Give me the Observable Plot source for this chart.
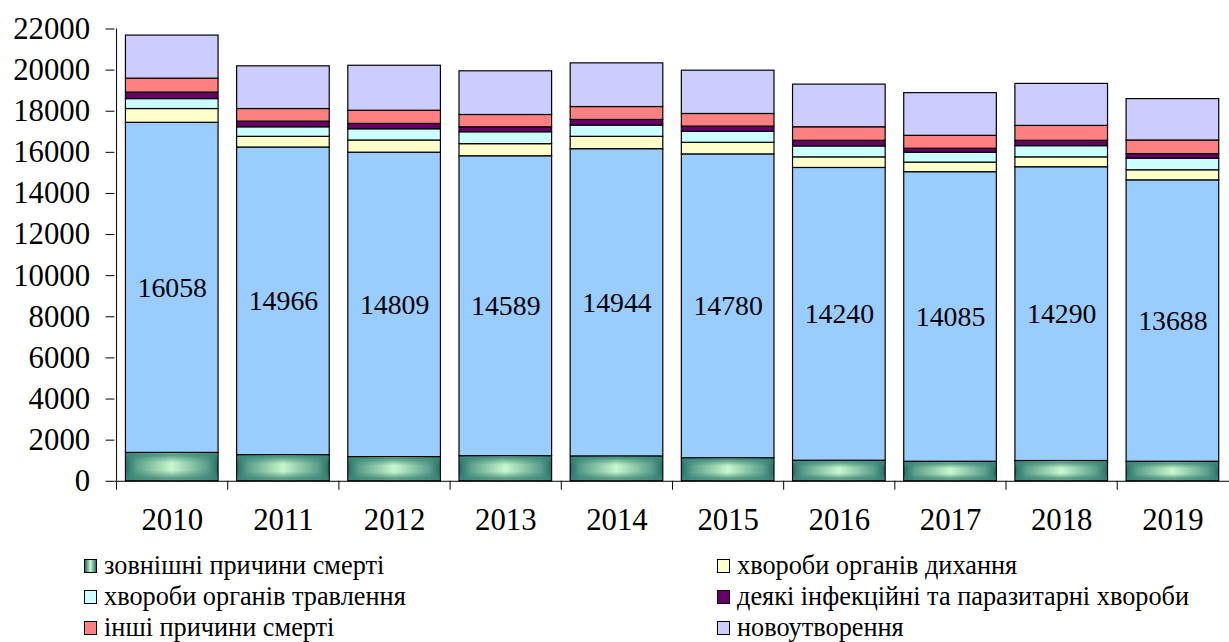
<!DOCTYPE html>
<html><head><meta charset="utf-8">
<script src="https://cdn.jsdelivr.net/npm/d3@7"></script>
<script src="https://cdn.jsdelivr.net/npm/@observablehq/plot@0.6"></script>
<style>
html,body{margin:0;padding:0;background:#fff;overflow:hidden;}
body{font-family:"Liberation Serif","Times New Roman",serif;color:#000;}
#legend{display:grid;grid-template-columns:633px auto;padding-left:84px;padding-top:9px;}
.item{display:flex;align-items:center;height:31px;font-size:26.3px;white-space:nowrap;}
.sw{width:13px;height:14px;border:1px solid #000;margin-right:7px;box-sizing:border-box;flex:none;}
</style></head><body>
<div id="chart"></div><div id="legend"></div>
<script>
const years = ["2010","2011","2012","2013","2014","2015","2016","2017","2018","2019"];
const external    = [1380, 1270, 1175, 1220, 1210, 1120, 1000, 950, 985, 950];
const circulatory = [16058, 14966, 14809, 14589, 14944, 14780, 14240, 14085, 14290, 13688];
const respiratory = [669, 519, 593, 589, 601, 565, 516, 465, 481, 490];
const digestive   = [483, 464, 545, 579, 546, 532, 531, 483, 545, 565];
const infectious  = [319, 275, 261, 242, 275, 256, 275, 193, 261, 222];
const other       = [676, 613, 642, 598, 628, 613, 657, 627, 724, 662];
const neoplasms   = [2095, 2076, 2187, 2125, 2124, 2105, 2076, 2077, 2043, 2013];
const yTicks = [0,2000,4000,6000,8000,10000,12000,14000,16000,18000,20000,22000];

const seriesNames = [
  "зовнішні причини смерті",
  "хвороби системи кровообігу",
  "хвороби органів дихання",
  "хвороби органів травлення",
  "деякі інфекційні та паразитарні хвороби",
  "інші причини смерті",
  "новоутворення"
];
const seriesValues = [external, circulatory, respiratory, digestive, infectious, other, neoplasms];
const seriesColors = ["url(#extH)", "#99ccff", "#ffffcc", "#ccffff", "#660066", "#ff8080", "#ccccff"];

const rows = [];
seriesNames.forEach((s, si) => years.forEach((y, yi) => rows.push({year: y, series: s, value: seriesValues[si][yi]})));
const labels = years.map((y, i) => ({year: y, base: external[i], value: circulatory[i]}));
const extRows = years.map((y, i) => ({year: y, value: external[i]}));

const font = '"Liberation Serif","Times New Roman",serif';
const svg = Plot.plot({
  width: 1238, height: 545,
  marginLeft: 115.3, marginRight: 0, marginTop: 28.7, marginBottom: 60.7,
  style: {fontFamily: font, background: "white", color: "#000"},
  x: {domain: years, padding: 0, axis: null},
  y: {domain: [0, 22000], axis: null},
  color: {domain: seriesNames, range: seriesColors},
  marks: [
    Plot.barY(rows, {x: "year", y: "value", fill: "series", stroke: "#000", strokeWidth: 1.2, insetLeft: 9.35, insetRight: 9.35}),
    Plot.barY(extRows, {x: "year", y: "value", fill: "url(#extV)", insetLeft: 10, insetRight: 10, insetTop: 1, insetBottom: 1}),
    Plot.text(labels, {x: "year", y: d => d.base + d.value / 2, text: d => String(d.value), fontSize: 28, fill: "#000"}),
    Plot.axisY({ticks: yTicks, tickSize: 9, tickPadding: 16, fontSize: 31, tickFormat: d => String(d), label: null}),
    Plot.axisX({tickSize: 0, tickPadding: 27, fontSize: 31, label: null}),
    Plot.axisX({tickSize: 9, tickFormat: () => "", dx: -56.1, label: null}),
    Plot.ruleY([0], {stroke: "#000"}),
    Plot.ruleX([years[0]], {dx: -56.1, stroke: "#000"})
  ]
});
const defs = d3.select(svg).insert("defs", ":first-child");
const gh = defs.append("linearGradient").attr("id", "extH").attr("x1", 0).attr("x2", 1).attr("y1", 0).attr("y2", 0);
[[0, "#256f64"], [0.12, "#5c9f8c"], [0.5, "#c8f7cc"], [0.88, "#5c9f8c"], [1, "#256f64"]].forEach(([o, c]) =>
  gh.append("stop").attr("offset", o).attr("stop-color", c));
const gv = defs.append("linearGradient").attr("id", "extV").attr("x1", 0).attr("x2", 0).attr("y1", 0).attr("y2", 1);
[[0, "#3a8878", 0.95], [0.35, "#3a8878", 0.0], [0.65, "#3a8878", 0.0], [1, "#3a8878", 0.95]].forEach(([o, c, a]) =>
  gv.append("stop").attr("offset", o).attr("stop-color", c).attr("stop-opacity", a));
document.getElementById("chart").appendChild(svg);

const legendOrder = [0, 2, 3, 4, 5, 6];
const legend = document.getElementById("legend");
legendOrder.forEach(i => {
  const it = document.createElement("div"); it.className = "item";
  const sw = document.createElement("span"); sw.className = "sw";
  sw.style.background = i === 0 ? "linear-gradient(90deg, #256f64, #c8f7cc 50%, #256f64)" : seriesColors[i];
  const tx = document.createElement("span"); tx.textContent = seriesNames[i];
  it.appendChild(sw); it.appendChild(tx); legend.appendChild(it);
});
</script>
</body></html>
